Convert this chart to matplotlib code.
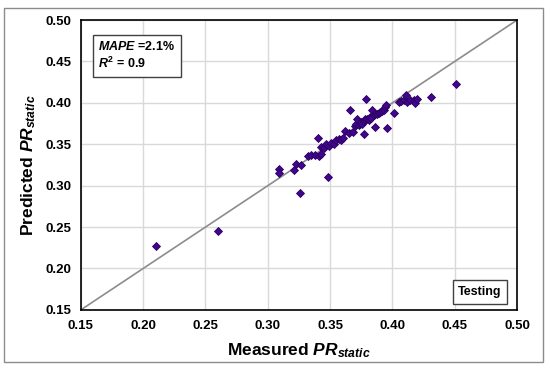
import matplotlib.pyplot as plt
from matplotlib.patches import Rectangle

plt.rcParams['font.family'] = ['Liberation Sans', 'DejaVu Sans']
plt.rcParams['mathtext.fontset'] = 'custom'
plt.rcParams['mathtext.rm'] = 'Liberation Sans:bold'
plt.rcParams['mathtext.it'] = 'Liberation Sans:italic:bold'
plt.rcParams['mathtext.bf'] = 'Liberation Sans:bold'

# measured vs predicted PR_static (testing set)
measured = [0.210, 0.260, 0.309, 0.309, 0.321, 0.323, 0.327, 0.326, 0.348,
            0.332, 0.335, 0.338, 0.341, 0.343, 0.340, 0.343, 0.345, 0.347,
            0.349, 0.351, 0.353, 0.355, 0.357, 0.359, 0.360, 0.362, 0.365,
            0.368, 0.366, 0.370, 0.371, 0.372, 0.373, 0.374, 0.375, 0.376,
            0.377, 0.377, 0.378, 0.379, 0.380, 0.381, 0.382, 0.383, 0.384,
            0.385, 0.386, 0.386, 0.388, 0.389, 0.390, 0.392, 0.393, 0.394,
            0.396, 0.395, 0.401, 0.405, 0.407, 0.409, 0.411, 0.412, 0.414,
            0.417, 0.418, 0.420, 0.431, 0.451]
predicted = [0.227, 0.245, 0.320, 0.315, 0.319, 0.326, 0.325, 0.291, 0.310,
             0.336, 0.337, 0.337, 0.336, 0.338, 0.357, 0.347, 0.345, 0.350,
             0.348, 0.352, 0.350, 0.355, 0.356, 0.355, 0.357, 0.366, 0.364,
             0.365, 0.392, 0.372, 0.375, 0.380, 0.373, 0.376, 0.377, 0.374,
             0.378, 0.363, 0.380, 0.405, 0.381, 0.379, 0.383, 0.382, 0.391,
             0.385, 0.371, 0.387, 0.386, 0.388, 0.389, 0.390, 0.392, 0.395,
             0.370, 0.397, 0.388, 0.401, 0.402, 0.403, 0.409, 0.401, 0.404,
             0.403, 0.400, 0.405, 0.407, 0.423]
ticks = [0.15, 0.20, 0.25, 0.30, 0.35, 0.40, 0.45, 0.50]

fig = plt.figure(figsize=(5.5, 3.72), dpi=100)
ax = fig.add_axes([0.147, 0.167, 0.793, 0.779])

ax.plot([0.15, 0.50], [0.15, 0.50], color='#8c8c8c', lw=1.2, zorder=2)
ax.plot(measured, predicted, 'D', ms=3.8, color='#42058f', mec='#2a005e',
        mew=0.6, zorder=3)

ax.set_xlim(0.15, 0.50)
ax.set_ylim(0.15, 0.50)
ax.set_xticks(ticks)
ax.set_yticks(ticks)
ax.set_xticklabels(['%.2f' % t for t in ticks], fontweight='bold', fontsize=9.5)
ax.set_yticklabels(['%.2f' % t for t in ticks], fontweight='bold', fontsize=9.5)
ax.tick_params(length=0, pad=7)
ax.grid(True, color='#d9d9d9', lw=1)
ax.set_axisbelow(True)
for s in ax.spines.values():
    s.set_linewidth(1.2)

ax.set_xlabel(r'Measured $PR_{static}$', fontsize=12.5, fontweight='bold',
              labelpad=7)
ax.set_ylabel(r'Predicted $PR_{static}$', fontsize=12.5, fontweight='bold',
              labelpad=5)

ax.text(0.04, 0.93, r'$MAPE$ =2.1%' + '\n' + r'$R^2$ = 0.9',
        transform=ax.transAxes, fontsize=9, fontweight='bold', va='top',
        ha='left', linespacing=1.2,
        bbox=dict(boxstyle='square,pad=0.45', fc='white', ec='#404040', lw=1))
ax.text(0.915, 0.062, 'Testing', transform=ax.transAxes, fontsize=9,
        fontweight='bold', ha='center', va='center',
        bbox=dict(boxstyle='square,pad=0.45', fc='white', ec='#404040', lw=1))

fig.patches.append(Rectangle((0.007, 0.027), 0.98, 0.951,
                             transform=fig.transFigure, fill=False,
                             ec='#8c8c8c', lw=1))

fig.savefig('out.png', dpi=100)
